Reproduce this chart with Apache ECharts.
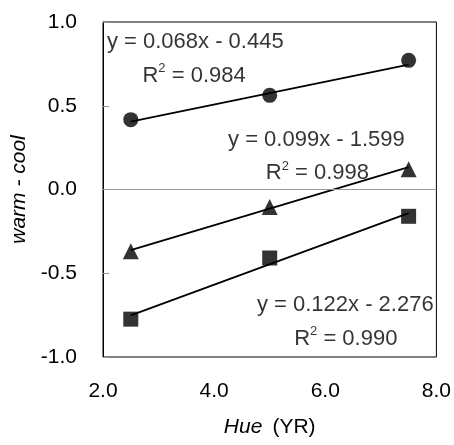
<!DOCTYPE html>
<html>
<head>
<meta charset="utf-8">
<script src="https://cdn.jsdelivr.net/npm/echarts@6/dist/echarts.min.js"></script>
<style>html,body{margin:0;padding:0;background:#fff}#c{width:454px;height:445px}</style>
</head>
<body>
<div id="c"></div>
<script>
// Data
var hue = [2.5, 5.0, 7.5];
var circleVals = [0.417, 0.562, 0.771];
var triangleVals = [-0.369, -0.104, 0.121];
var squareVals = [-0.774, -0.409, -0.160];
// Trend line endpoints (at first and last hue)
var trendX = [2.5, 7.5];
var circleTrend = [0.405, 0.745];
var triangleTrend = [-0.362, 0.134];
var squareTrend = [-0.751, -0.141];
// Tick labels
var xTicks = ['2.0', '4.0', '6.0', '8.0'];
var yTicks = ['-1.0', '-0.5', '0.0', '0.5', '1.0'];
// Annotations: [x, y, text]
var annotations = [
  [2.07, 0.88, 'y = 0.068x - 0.445'],
  [2.71, 0.68, 'R{sup|2} = 0.984'],
  [4.25, 0.294, 'y = 0.099x - 1.599'],
  [4.93, 0.097, 'R{sup|2} = 0.998'],
  [4.77, -0.69, 'y = 0.122x - 2.276'],
  [5.44, -0.89, 'R{sup|2} = 0.990']
];

var FONT = '"Liberation Sans", Arial, Helvetica, sans-serif';

function pairs(xs, ys) { return xs.map(function (x, i) { return [x, ys[i]]; }); }

var chart = echarts.init(document.getElementById('c'));
var option = {
  animation: false,
  textStyle: { fontFamily: FONT },
  grid: { left: 103, right: 13, top: 22, bottom: 88, show: true, borderColor: '#000', borderWidth: 1, backgroundColor: 'transparent' },
  xAxis: {
    type: 'value', min: 2, max: 8, interval: 2,
    axisLine: { show: false }, axisTick: { show: false }, splitLine: { show: false },
    axisLabel: { color: '#000', fontSize: 21, fontFamily: FONT, margin: 24,
      formatter: function (v) { return xTicks[Math.round((v - 2) / 2)]; } },
    name: '{i|Hue}{g| }{n|(YR)}', nameLocation: 'middle', nameGap: 60,
    nameTextStyle: { rich: {
      i: { fontStyle: 'italic', fontSize: 21, fontFamily: FONT, color: '#000' },
      g: { fontSize: 21, width: 10, fontFamily: FONT },
      n: { fontSize: 21, fontFamily: FONT, color: '#000' } } }
  },
  yAxis: {
    type: 'value', min: -1, max: 1, interval: 0.5,
    axisLine: { show: true, lineStyle: { color: '#000' } },
    axisTick: { show: true, inside: true, length: 6, lineStyle: { color: '#999' } },
    splitLine: { show: false },
    axisLabel: { color: '#000', fontSize: 21, fontFamily: FONT, margin: 26,
      formatter: function (v) { return yTicks[Math.round((v + 1) / 0.5)]; } },
    name: 'warm - cool', nameLocation: 'middle', nameGap: 72,
    nameTextStyle: { fontStyle: 'italic', fontSize: 21, fontFamily: FONT, color: '#000' }
  },
  series: [
    { type: 'line', data: pairs(trendX, circleTrend), symbol: 'none', lineStyle: { color: '#000', width: 1.8 }, z: 2,
      markLine: { silent: true, symbol: 'none', label: { show: false }, lineStyle: { color: '#999', width: 1, type: 'solid' }, data: [{ yAxis: 0 }] } },
    { type: 'line', data: pairs(trendX, triangleTrend), symbol: 'none', lineStyle: { color: '#000', width: 1.8 }, z: 2 },
    { type: 'line', data: pairs(trendX, squareTrend), symbol: 'none', lineStyle: { color: '#000', width: 1.8 }, z: 2 },
    { type: 'scatter', data: pairs(hue, circleVals), symbol: 'circle', symbolSize: 15, itemStyle: { color: '#000' }, z: 3 },
    { type: 'scatter', data: pairs(hue, triangleVals), symbol: 'triangle', symbolSize: 16, itemStyle: { color: '#000' }, z: 3 },
    { type: 'scatter', data: pairs(hue, squareVals), symbol: 'rect', symbolSize: 15, itemStyle: { color: '#000' }, z: 3 },
    { type: 'scatter', symbolSize: 0, silent: true, z: 4,
      data: annotations.map(function (a) { return { value: [a[0], a[1]], label: { formatter: a[2] } }; }),
      label: { show: true, position: 'right', distance: 0, color: '#000', fontSize: 22, fontFamily: FONT,
        rich: { sup: { fontSize: 13, verticalAlign: 'top', padding: [0, 0, 14, 0], color: '#000', fontFamily: FONT } } } }
  ]
};
chart.setOption(option);
</script>
</body>
</html>
